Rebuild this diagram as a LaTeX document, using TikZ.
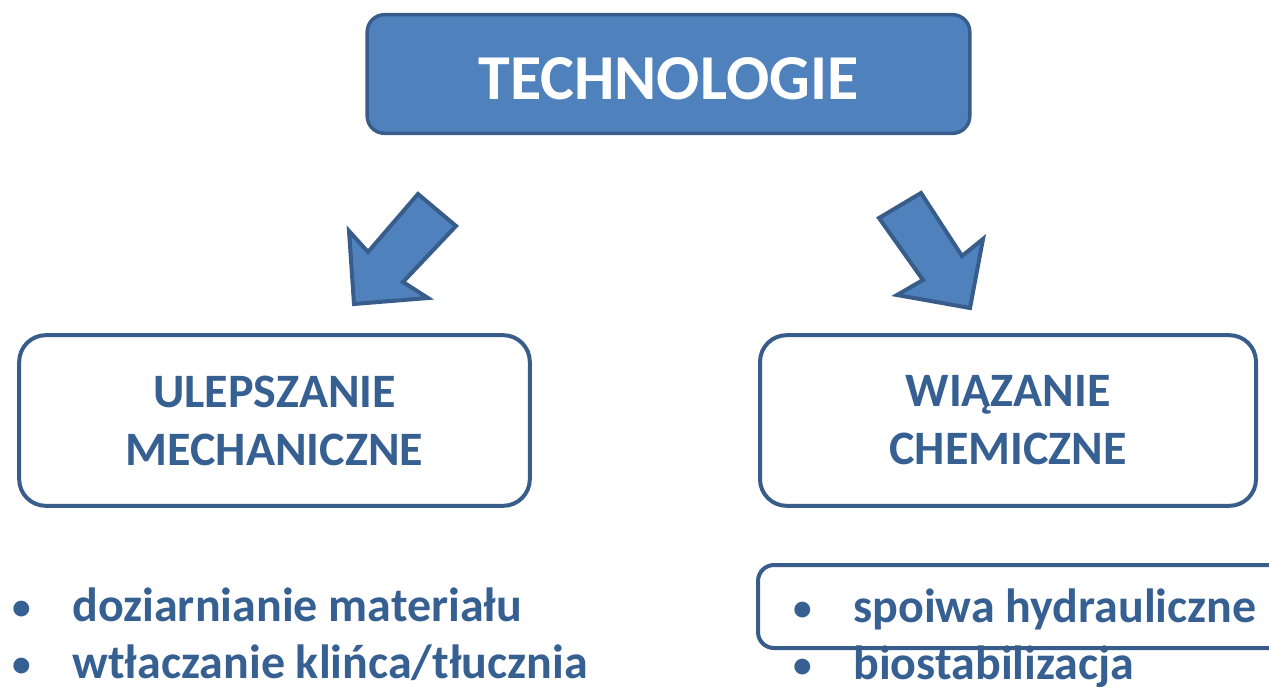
\documentclass[tikz,border=0pt]{standalone}
\usepackage{fontspec}
\setmainfont{Carlito}
\usepackage{tikz}
\usetikzlibrary{positioning}
\definecolor{accent}{HTML}{4F81BD}
\definecolor{edge}{HTML}{385D8A}
\definecolor{ink}{HTML}{376092}
\tikzset{
    x=0.75pt, y=-0.75pt,
    topbox/.style={draw=edge, fill=accent, line width=2.6pt, rounded corners=13pt,
        minimum width=452pt, minimum height=89pt, text=white,
        text height=38pt, text depth=0pt,
        font=\fontsize{48}{56}\selectfont\bfseries},
    box/.style={draw=edge, fill=white, line width=3pt, rounded corners=20pt,
        minimum height=128pt, align=center, text=ink,
        font=\fontsize{36}{43.5}\selectfont\bfseries},
    bullets/.style={align=left, text=ink, inner sep=0pt,
        font=\fontsize{36}{42.75}\selectfont\bfseries},
    blockarrow/.style={draw=edge, fill=accent, line width=3pt, line join=miter}
}
\newcommand{\li}[1]{\makebox[45pt][l]{\fontsize{28}{28}\selectfont\raisebox{1pt}{•}}#1}

\begin{document}
\begin{tikzpicture}
        \useasboundingbox (0,0) rectangle (1269,686);

        \node (tech) [topbox] at (668.5,74) {TECHNOLOGIE};
        \node (mech) [box, minimum width=383pt] at (274.5,420.5) {ULEPSZANIE\\MECHANICZNE};
        \node (chem) [box, minimum width=372pt] at (1008,420.5) {WIĄZANIE\\CHEMICZNE};

        \node (mechlist) [bullets, anchor=west] at (12,634) {\li{doziarnianie materiału}\\\li{wtłaczanie klińca/tłucznia}};
        \node (chemlist) [bullets, anchor=west] at (793,638) {\li{spoiwa hydrauliczne}\\\li{biostabilizacja}};

        \draw[draw=edge, line width=3pt, rounded corners=12pt]
            (758,565) rectangle (1300,648);

        \draw[blockarrow]
            (418,194) -- (456,226) -- (403,282) -- (428,298) -- (354,304)
            -- (349,231) -- (368,252) -- cycle;
        \draw[blockarrow]
            (879,218) -- (921,193) -- (962,256) -- (983,239) -- (970,308)
            -- (897,295) -- (923,280) -- cycle;
    \end{tikzpicture}
\end{document}
